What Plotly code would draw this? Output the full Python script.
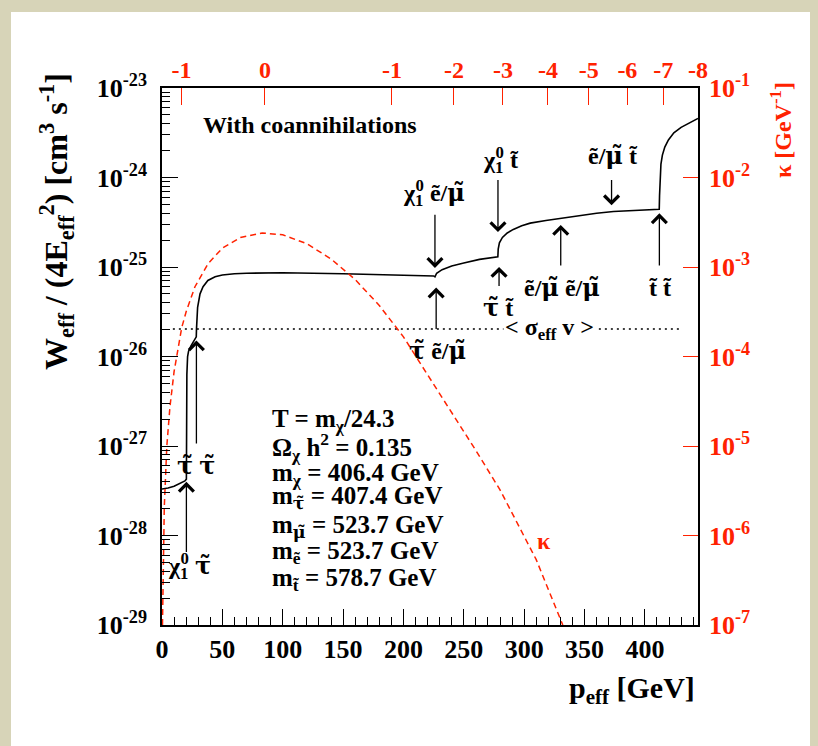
import plotly.graph_objects as go

FONT = "Times New Roman, Liberation Serif, serif"
RED = "#ff2200"
BLACK = "#000000"


def tl(ch):
    """Greek letter carrying a tilde, shaped with a font that positions the mark."""
    return '<span style="font-family:DejaVu Serif">' + ch + "\u0303</span>"


TAU, MU = tl("\u03c4"), tl("\u03bc")
E_T = "\u1ebd"          # e with tilde
T_T = "t\u0303"         # t with tilde
# neutralino: subscript 1 with the superscript 0 pulled back over it
CHI10 = ('\u03c7<sub><span style="letter-spacing:-8px">1</span></sub>'
         "<sup>0</sup>")

# ---- data -------------------------------------------------------------
# W_eff / (4 E_eff^2) [cm^3 s^-1] versus p_eff [GeV], stored as log10 values
p_w = [0, 5, 10, 15, 19, 20.2, 20.25, 20.35, 20.6, 21.2, 22.0, 24.0, 26.5, 28.4,
       28.55, 28.8, 29.5, 31.5, 34.0, 38.0, 44.0, 50.0, 60, 70, 100, 150, 200,
       225, 226.1, 227.5, 232, 240, 250, 263, 278.2, 278.5, 279.5, 282, 286, 291,
       298, 305, 318, 330.3, 335, 346, 360, 374, 395, 411.9, 412.15, 412.5,
       413.3, 414.5, 416.5, 419.5, 424, 430, 437, 444]
log_w = [-27.48, -27.47, -27.45, -27.42, -27.39, -27.37, -27.0, -26.5, -26.2, -26.0,
         -25.94, -25.88, -25.82, -25.78, -25.70, -25.55, -25.45, -25.30, -25.22,
         -25.15, -25.11, -25.09, -25.075, -25.07, -25.065, -25.075, -25.09,
         -25.10, -25.11, -25.07, -25.03, -24.99, -24.955, -24.915, -24.885, -24.80,
         -24.73, -24.67, -24.62, -24.58, -24.54, -24.51, -24.48, -24.457, -24.445,
         -24.42, -24.40, -24.38, -24.365, -24.355, -24.2, -24.0, -23.85, -23.75,
         -23.66, -23.58, -23.50, -23.44, -23.39, -23.34]

# kappa [GeV^-1] versus p_eff [GeV], stored as log10 values
p_k = [0.4, 1.0, 1.9, 4, 6.6, 10, 12.2, 16.3, 20, 27.3, 38.3, 50, 65, 83, 100, 120,
       140, 160, 180, 200, 216, 240, 260, 280, 296, 310, 332]
log_k = [-7.0, -6.25, -5.68, -5.0, -4.56, -4.17, -3.98, -3.68, -3.50, -3.22, -2.96,
         -2.79, -2.67, -2.62, -2.64, -2.74, -2.91, -3.14, -3.43, -3.78, -4.12,
         -4.62, -5.05, -5.49, -5.90, -6.27, -7.0]

# thermal average <sigma_eff v> [cm^3 s^-1]
sigma_eff_v = 2.03e-26
sigma_p = [9, 429]

# bottom / top / side axis ticks
x_ticks = [0, 50, 100, 150, 200, 250, 300, 350, 400]
top_tick_p = [16.1, 85.3, 190.5, 241.8, 282.4, 319.7, 353.6, 385.5, 415.3, 444.0]
top_tick_text = ["-1", "0", "-1", "-2", "-3", "-4", "-5", "-6", "-7", "-8"]
w_decades = [-29, -28, -27, -26, -25, -24, -23]
k_decades = [-7, -6, -5, -4, -3, -2, -1]

# coannihilation thresholds: (label, p_eff, log10 tail, log10 head, label p, label log10)
thresholds = [
    (CHI10 + " " + TAU, 20.2, -28.20, -27.40, 22.4, -28.34),
    (TAU + " " + TAU, 28.5, -26.99, -25.82, 28.2, -27.22),
    (CHI10 + " " + E_T + "/" + MU, 226.1, -24.40, -25.01, 225.4, -24.17),
    (TAU + " " + E_T + "/" + MU, 227.1, -25.71, -25.23, 227.9, -25.93),
    (CHI10 + " " + T_T, 278.3, -24.01, -24.61, 280.1, -23.81),
    (TAU + " " + T_T, 279.2, -25.23, -25.00, 278.5, -25.45),
    (E_T + "/" + MU + " " + E_T + "/" + MU, 330.3, -25.00, -24.53, 331.5, -25.23),
    (E_T + "/" + MU + " " + T_T, 372.4, -24.01, -24.31, 373.0, -23.75),
    (T_T + " " + T_T, 412.0, -25.00, -24.40, 412.8, -25.24),
]

# model parameters printed on the plot
param_lines = [
    "T = m<sub>\u03c7</sub>/24.3",
    "\u03a9<sub>\u03c7</sub> h<sup>2</sup> = 0.135",
    "m<sub>\u03c7</sub> = 406.4 GeV",
    "m<sub>" + TAU + "</sub> = 407.4 GeV",
    "m<sub>" + MU + "</sub> = 523.7 GeV",
    "m<sub>" + E_T + "</sub> = 523.7 GeV",
    "m<sub>" + T_T + "</sub> = 578.7 GeV",
]
param_log_y = [-26.71, -27.01, -27.32, -27.58, -27.90, -28.19, -28.49]

# ---- layout geometry (pixels) ------------------------------------------
W, H = 818, 746
L, R, T, B = 162, 120, 88, 121
PW, PH = W - L - R, H - T - B


def px(x):
    return (x - L) / PW


def py(y):
    return (H - B - y) / PH


fig = go.Figure()

fig.add_trace(go.Scatter(
    x=p_k, y=[10 ** v for v in log_k], yaxis="y2", mode="lines",
    line=dict(color=RED, width=1.5, dash="6px,4px"), hoverinfo="skip"))

fig.add_trace(go.Scatter(
    x=sigma_p, y=[sigma_eff_v, sigma_eff_v], mode="lines",
    line=dict(color=BLACK, width=1.6, dash="2px,4px"), hoverinfo="skip"))

fig.add_trace(go.Scatter(
    x=p_w, y=[10 ** v for v in log_w], mode="lines",
    line=dict(color=BLACK, width=1.6), hoverinfo="skip"))

# carriers for the overlay axes (top ticks, minor ticks)
fig.add_trace(go.Scatter(x=[None], y=[None], xaxis="x2", showlegend=False))
fig.add_trace(go.Scatter(x=[None], y=[None], yaxis="y3", showlegend=False))

minor_vals = [m * 10.0 ** d for d in w_decades[:-1] for m in range(2, 10)]

tick_font = dict(family=FONT, size=26, color=BLACK, weight="bold")
red_font = dict(family=FONT, size=26, color=RED, weight="bold")

fig.update_layout(
    width=W, height=H,
    margin=dict(l=L, r=R, t=T, b=B, pad=0),
    paper_bgcolor="#d7d4b8",
    plot_bgcolor="white",
    showlegend=False,
    xaxis=dict(
        range=[0, 444], tickvals=x_ticks, ticks="inside", ticklen=16,
        tickwidth=1.2, tickcolor=BLACK, showline=True, linecolor=BLACK,
        linewidth=1.5, mirror=True, showgrid=False, zeroline=False,
        tickfont=tick_font,
        minor=dict(dtick=10, ticks="inside", ticklen=8, tickcolor=BLACK,
                   tickwidth=1, showgrid=False),
    ),
    xaxis2=dict(
        overlaying="x", side="top", anchor="y", range=[0, 444],
        tickvals=top_tick_p, ticktext=top_tick_text, ticks="inside",
        ticklen=17, tickcolor=RED, tickwidth=1.2, showline=False,
        showgrid=False, zeroline=False,
        tickfont=dict(family=FONT, size=24, color=RED, weight="bold"),
        ticklabelstandoff=4,
    ),
    yaxis=dict(
        type="log", range=[-29, -23],
        tickvals=[10.0 ** d for d in w_decades],
        ticktext=["10<sup>%d</sup>" % d for d in w_decades],
        ticks="inside", ticklen=16, tickwidth=1.2, tickcolor=BLACK,
        showline=True, linecolor=BLACK, linewidth=1.5, mirror=True,
        showgrid=False, zeroline=False, tickfont=tick_font,
        ticklabelstandoff=8,
    ),
    yaxis3=dict(
        type="log", range=[-29, -23], overlaying="y", side="left",
        anchor="x", tickvals=minor_vals, ticks="inside", ticklen=8,
        tickwidth=1, tickcolor=BLACK, showticklabels=False, showline=False,
        showgrid=False, zeroline=False,
    ),
    yaxis2=dict(
        type="log", range=[-7, -1], overlaying="y", side="right",
        anchor="x", tickvals=[10.0 ** d for d in k_decades],
        ticktext=["10<sup>%d</sup>" % d for d in k_decades],
        ticks="inside", ticklen=15, tickwidth=1.2, tickcolor=RED,
        showline=False, showgrid=False, zeroline=False, tickfont=red_font,
        ticklabelstandoff=10,
    ),
)

# white sheet behind the figure
fig.add_shape(type="rect", xref="paper", yref="paper", layer="below",
              x0=px(11), x1=px(810), y0=py(746), y1=py(12),
              fillcolor="white", line=dict(width=0))

ann = []

# axis titles
ann.append(dict(xref="paper", yref="paper", x=px(57), y=py(222),
                text="W<sub>eff</sub> / (4E<sub>eff</sub><sup>2</sup>) [cm<sup>3</sup> s<sup>-1</sup>]",
                textangle=-90, showarrow=False, xanchor="center", yanchor="middle",
                font=dict(family=FONT, size=32, color=BLACK, weight="bold")))
ann.append(dict(xref="paper", yref="paper", x=px(697), y=py(690),
                text="p<sub>eff</sub> [GeV]", showarrow=False,
                xanchor="right", yanchor="middle",
                font=dict(family=FONT, size=30, color=BLACK, weight="bold")))
ann.append(dict(xref="paper", yref="paper", x=px(781), y=py(80),
                text="\u03ba [GeV<sup>-1</sup>]", textangle=-90, showarrow=False,
                xanchor="center", yanchor="top",
                font=dict(family=FONT, size=24, color=RED, weight="bold")))

# headline
ann.append(dict(x=122.7, y=-23.41, xref="x", yref="y", text="With coannihilations",
                showarrow=False, xanchor="center", yanchor="middle",
                font=dict(family=FONT, size=24, color=BLACK, weight="bold")))

# sigma_eff v label, kappa label
ann.append(dict(x=320.7, y=-25.69, xref="x", yref="y",
                text="&lt; \u03c3<sub>eff</sub> v &gt;", showarrow=False,
                xanchor="center", yanchor="middle", bgcolor="white",
                font=dict(family=FONT, size=24, color=BLACK, weight="bold")))
ann.append(dict(x=316.2, y=-6.056, xref="x", yref="y2", text="\u03ba",
                showarrow=False, xanchor="center", yanchor="middle",
                font=dict(family=FONT, size=24, color=RED, weight="bold")))

# threshold arrows and labels
for label, p, tail, head, lp, ly in thresholds:
    ann.append(dict(x=p, y=head, ax=p, ay=tail, xref="x", yref="y",
                    axref="x", ayref="y", text="", showarrow=True,
                    arrowhead=4, arrowsize=2.2, arrowwidth=1.3,
                    arrowcolor=BLACK, standoff=0, startstandoff=0))
    ann.append(dict(x=lp, y=ly, xref="x", yref="y", text=label,
                    showarrow=False, xanchor="center", yanchor="middle",
                    font=dict(family=FONT, size=24, color=BLACK, weight="bold")))

# parameter block
for line, ly in zip(param_lines, param_log_y):
    ann.append(dict(x=89.5, y=ly, xref="x", yref="y", text=line,
                    showarrow=False, xanchor="left", yanchor="middle",
                    font=dict(family=FONT, size=25, color=BLACK, weight="bold")))

fig.update_layout(annotations=ann)

fig.write_html("out.html")
